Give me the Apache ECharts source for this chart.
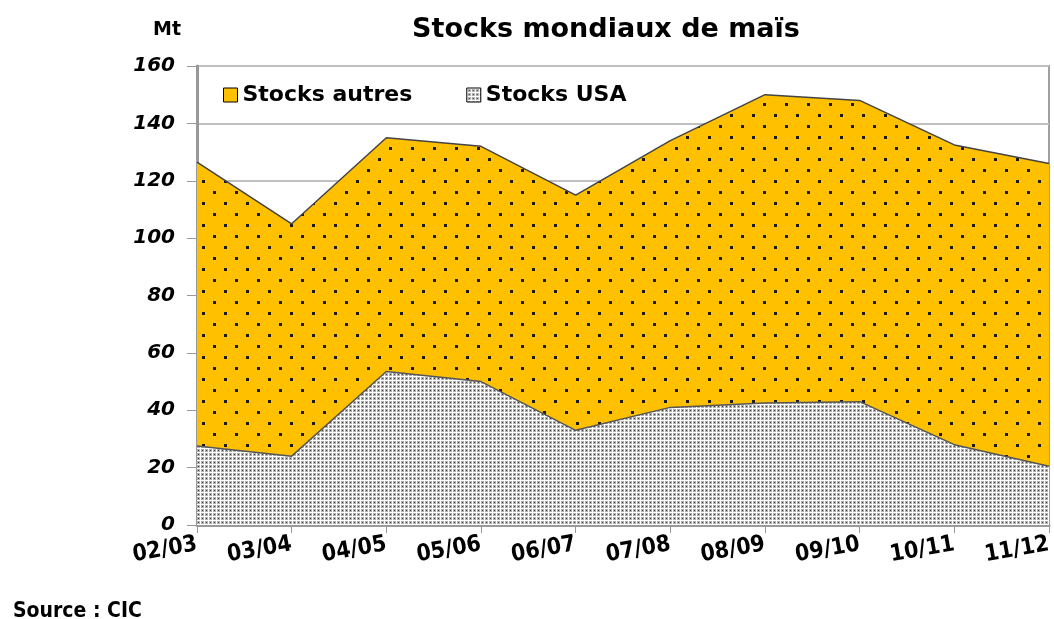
<!DOCTYPE html>
<html><head><meta charset="utf-8">
<script src="https://cdn.jsdelivr.net/npm/echarts@6/dist/echarts.min.js"></script>
<style>html,body{margin:0;padding:0;background:#fff}#c{width:1054px;height:619px}</style>
</head><body><div id="c"></div>
<script>
const categories = ['02/03','03/04','04/05','05/06','06/07','07/08','08/09','09/10','10/11','11/12'];
const stocksUSA = [27.5, 24, 53.5, 50, 33, 41, 42.5, 43, 28, 20.5];
const stocksAutres = [99, 81, 81.5, 82, 82, 93, 107.5, 105, 104.5, 105.5];
const yTicks = [0, 20, 40, 60, 80, 100, 120, 140, 160];

function dotPattern() {
  const c = document.createElement('canvas'); c.width = 22; c.height = 22;
  const g = c.getContext('2d');
  g.fillStyle = '#FFC000'; g.fillRect(0, 0, 22, 22);
  g.fillStyle = '#1a1a1a'; g.fillRect(4, 4, 3, 3); g.fillRect(15, 15, 3, 3);
  return c;
}
function grayPattern() {
  const c = document.createElement('canvas'); c.width = 4; c.height = 4;
  const g = c.getContext('2d');
  g.fillStyle = '#ffffff'; g.fillRect(0, 0, 4, 4);
  g.fillStyle = '#b0b0b0'; g.fillRect(1, 1, 3, 3);
  g.fillStyle = '#404040'; g.fillRect(2, 2, 1, 1);
  return c;
}
const orangeFill = { image: dotPattern(), repeat: 'repeat' };
const grayFill = { image: grayPattern(), repeat: 'repeat' };
const narrow = '"DejaVu Sans Condensed", sans-serif';

const chart = echarts.init(document.getElementById('c'));
chart.setOption({
  animation: false,
  backgroundColor: '#fff',
  title: [
    { text: 'Stocks mondiaux de maïs', left: 601, top: 11, textAlign: 'center',
      textStyle: { fontFamily: 'DejaVu Sans', fontWeight: 'bold', fontSize: 27, color: '#000' } },
    { text: 'Mt', left: 148, top: 16,
      textStyle: { fontFamily: 'DejaVu Sans', fontWeight: 'bold', fontSize: 19, color: '#000' } },
    { text: 'Source : CIC', left: 8, top: 596,
      textStyle: { fontFamily: narrow, fontWeight: 'bold', fontSize: 21, color: '#000' } }
  ],
  legend: {
    left: 218, top: 79, itemGap: 54, itemWidth: 14, itemHeight: 14,
    icon: 'rect',
    data: [
      { name: 'Stocks autres', itemStyle: { color: '#FFC000', borderColor: '#000', borderWidth: 1 } },
      { name: 'Stocks USA', itemStyle: { color: grayFill, borderColor: '#000', borderWidth: 1 } }
    ],
    textStyle: { fontFamily: 'DejaVu Sans', fontWeight: 'bold', fontSize: 22, color: '#000' }
  },
  grid: { left: 197, right: 5, top: 66, bottom: 94, show: true, borderColor: '#a0a0a0', borderWidth: 2, containLabel: false },
  xAxis: {
    type: 'category', data: categories, boundaryGap: false,
    axisLine: { lineStyle: { color: '#999', width: 3 } },
    axisTick: { show: true, length: 8, interval: 0, lineStyle: { color: '#999', width: 1 } },
    axisLabel: { interval: 0, rotate: 10, margin: 19, fontFamily: narrow, fontWeight: 'bold', fontSize: 23, color: '#000' },
    splitLine: { show: false }
  },
  yAxis: {
    type: 'value', min: 0, max: 160, interval: 20,
    axisLine: { show: true, lineStyle: { color: '#999', width: 3 } },
    axisTick: { show: true, length: 10, lineStyle: { color: '#999' } },
    axisLabel: { margin: 22, fontFamily: 'DejaVu Sans', fontWeight: 'bold', fontStyle: 'italic', fontSize: 20, color: '#000',
      formatter: v => yTicks.includes(v) ? String(v) : '' },
    splitLine: { lineStyle: { color: '#c0c0c0', width: 2 } }
  },
  series: [
    { name: 'Stocks USA', type: 'line', stack: 'total', data: stocksUSA, symbol: 'none',
      lineStyle: { color: '#555', width: 1.5 }, areaStyle: { color: grayFill, opacity: 1 }, itemStyle: { color: grayFill }, z: 2 },
    { name: 'Stocks autres', type: 'line', stack: 'total', data: stocksAutres, symbol: 'none',
      lineStyle: { color: '#444', width: 1.5 }, areaStyle: { color: orangeFill, opacity: 1 }, itemStyle: { color: '#FFC000' }, z: 1 }
  ]
});
</script></body></html>
